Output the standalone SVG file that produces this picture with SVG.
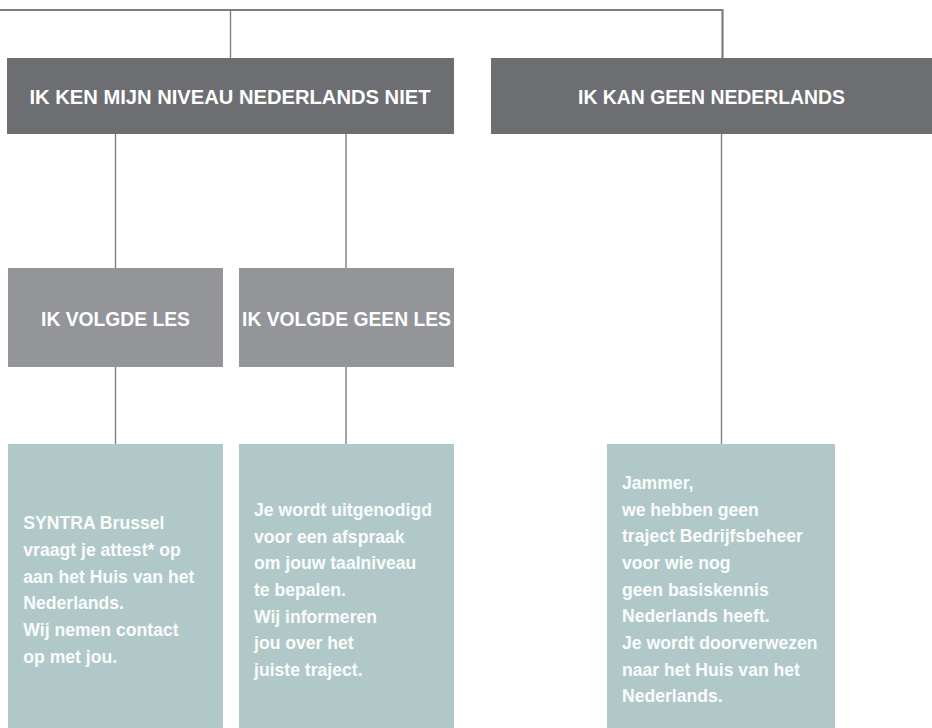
<svg xmlns="http://www.w3.org/2000/svg" width="932" height="728" viewBox="0 0 932 728">
<style>
.dark{fill:#6d6e71}
.grey{fill:#939598}
.teal{fill:#b1c8c8}
.conn{stroke:#7f7f7f;fill:none;stroke-width:1.4}
.h{font-family:"Liberation Sans",Arial,sans-serif;font-weight:bold;fill:#fff;text-anchor:middle}
.b{font-family:"Liberation Sans",Arial,sans-serif;font-weight:bold;fill:#fafcfc;font-size:17.6px}
</style>
<rect width="932" height="728" fill="#fff"/>
<g id="connectors">
<path class="conn" d="M0 10 H722.5 V58" style="stroke-width:2"/>
<path class="conn" d="M722.5 10 V58"/>
<path class="conn" d="M230.5 10 V58"/>
<path class="conn" d="M115.5 134 V268"/>
<path class="conn" d="M346 134 V268"/>
<path class="conn" d="M721.5 134 V444"/>
<path class="conn" d="M115.5 367 V444"/>
<path class="conn" d="M346 367 V444"/>
</g>
<g id="n1">
<rect class="dark" x="7" y="58" width="447" height="76"/>
<text class="h" x="230" y="104" font-size="20" textLength="401" lengthAdjust="spacingAndGlyphs">IK KEN MIJN NIVEAU NEDERLANDS NIET</text>
</g>
<g id="n2">
<rect class="dark" x="491" y="58" width="441" height="76"/>
<text class="h" x="711.5" y="104" font-size="20" textLength="267" lengthAdjust="spacingAndGlyphs">IK KAN GEEN NEDERLANDS</text>
</g>
<g id="n3">
<rect class="grey" x="8" y="268" width="215" height="99"/>
<text class="h" x="115.5" y="325.5" font-size="19.3">IK VOLGDE LES</text>
</g>
<g id="n4">
<rect class="grey" x="239" y="268" width="215" height="99"/>
<text class="h" x="346.5" y="325.5" font-size="19.3">IK VOLGDE GEEN LES</text>
</g>
<g id="n5">
<rect class="teal" x="8" y="444" width="215" height="284"/>
<text class="b" x="23.3" y="529.3">SYNTRA Brussel</text>
<text class="b" x="23.3" y="556">vraagt je attest* op</text>
<text class="b" x="23.3" y="582.7">aan het Huis van het</text>
<text class="b" x="23.3" y="609.3">Nederlands.</text>
<text class="b" x="23.3" y="636">Wij nemen contact</text>
<text class="b" x="23.3" y="662.7">op met jou.</text>
</g>
<g id="n6">
<rect class="teal" x="239" y="444" width="215" height="284"/>
<text class="b" x="254" y="516">Je wordt uitgenodigd</text>
<text class="b" x="254" y="542.7">voor een afspraak</text>
<text class="b" x="254" y="569.3">om jouw taalniveau</text>
<text class="b" x="254" y="596">te bepalen.</text>
<text class="b" x="254" y="622.7">Wij informeren</text>
<text class="b" x="254" y="649.3">jou over het</text>
<text class="b" x="254" y="676">juiste traject.</text>
</g>
<g id="n7">
<rect class="teal" x="607" y="444" width="228" height="284"/>
<text class="b" x="622" y="489">Jammer,</text>
<text class="b" x="622" y="515.7">we hebben geen</text>
<text class="b" x="622" y="542.3">traject Bedrijfsbeheer</text>
<text class="b" x="622" y="569">voor wie nog</text>
<text class="b" x="622" y="595.7">geen basiskennis</text>
<text class="b" x="622" y="622.3">Nederlands heeft.</text>
<text class="b" x="622" y="649">Je wordt doorverwezen</text>
<text class="b" x="622" y="675.7">naar het Huis van het</text>
<text class="b" x="622" y="702.3">Nederlands.</text>
</g>
</svg>
